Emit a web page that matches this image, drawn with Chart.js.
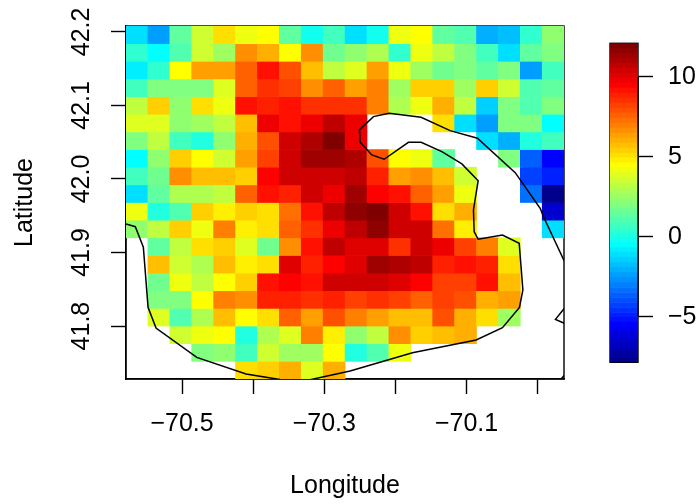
<!DOCTYPE html>
<html>
<head>
<meta charset="utf-8">
<script src="https://cdn.jsdelivr.net/npm/chart.js@4"></script>
<style>
  html, body { margin: 0; padding: 0; background: #fff; }
  #wrap { position: relative; width: 699px; height: 504px; overflow: hidden; }
  canvas { position: absolute; top: 0; left: 0; }
</style>
</head>
<body>
<div id="wrap">
  <canvas id="mapChart" width="699" height="504"></canvas>
  <canvas id="legendChart" width="699" height="504"></canvas>
</div>
<script>
// cell centres
const lons = [-70.5634, -70.5326, -70.5018, -70.4710, -70.4402, -70.4094, -70.3786, -70.3478, -70.3170, -70.2862,
              -70.2554, -70.2246, -70.1938, -70.1630, -70.1322, -70.1014, -70.0706, -70.0398, -70.0090, -69.9782];
const lats = [42.196, 42.172, 42.148, 42.124, 42.100, 42.076, 42.052, 42.028, 42.004, 41.980,
              41.956, 41.932, 41.908, 41.884, 41.860, 41.836, 41.812, 41.788, 41.764, 41.740];
const N = null;
// one row per latitude, top of the map first
const z = [
  [-1, -2.4, 1.35, 3.5, 5.1, 4.2, 4.5, 1.35, -0.2, 0.7, -1.1, -0.2, 4.2, 4.5, 1.35, 1, -2.1, -1.8, 0.4, 2.3],
  [0.4, -0.5, 1, 3.5, 2.6, 6.7, 6, 4.5, 6.7, 1.7, 2.3, 2.9, 0.4, 4.2, 3.2, 2, 0.7, -1.1, 1.35, 2],
  [-0.8, 0.4, 4.5, 6.35, 6.35, 7.6, 9.2, 7.9, 5.7, 3.2, 3.85, 6.35, 4.2, 2.6, 1.7, 2, 1.35, 2, -2.4, 0.7],
  [0.7, 2, 2, 2, 3.85, 7.6, 8.5, 8.2, 6.7, 7.6, 6.35, 7, 2.6, 5.4, 5.4, 2.6, 5.4, 3.5, 1, 1.35],
  [3.2, 5.4, 2.3, 5.1, 4.2, 9.2, 8.85, 9.2, 8.5, 8.5, 8.5, 7, 2.9, 4.2, 6, 3.2, -1.5, 2, 1, 2],
  [3.85, 3.85, 2.3, 2.6, 3.2, 5.7, 9.8, 9.2, 9.8, 10.7, 9.8, N, N, N, 5.1, -1.1, -2.4, 2, 2, -0.5],
  [2, 3.2, 0.7, 0.1, 2.3, 6, 7.9, 10.4, 11, 12, 9.8, N, N, N, N, N, -1.1, -2.1, 0.1, 0.7],
  [-0.5, 2.3, 5.4, 4.5, 3.5, 6.35, 8.2, 10.4, 11.4, 11.4, 11, 7.9, 4.5, 4.2, 1.35, N, N, 2, -3.65, -5.5],
  [0.7, 1.7, 6.7, 5.7, 5.7, 5.4, 9.5, 10.4, 10.4, 10.4, 10.7, 8.85, 6.35, 6.7, 5.7, 3.5, N, N, -4.3, -4.9],
  [-1.1, 1.35, 2.9, 2.9, 3.2, 7.6, 9.2, 8.85, 10.4, 9.8, 11.4, 9.5, 9.2, 7.6, 6.35, 4.2, N, N, -3.3, -7.7],
  [4.2, 0.1, 1, 5.4, 4.9, 5.4, 5.1, 7.3, 9.2, 10.7, 11.7, 12, 10.4, 9.2, 5.1, 6, N, N, N, -6.3],
  [2.3, 3.2, 5.4, 4.2, 7, 4.8, 5.1, 7.6, 8.5, 9.8, 10.7, 11.7, 10.4, 10.4, 7.3, 4.8, N, N, N, -1.1],
  [N, 1.35, 3.2, 5.1, 5.3, 3.85, 1.7, 6.7, 9.2, 10.7, 10.1, 10.1, 8.5, 10.4, 9.8, 8.2, 7, 3.85, N, N],
  [N, 5.7, 3.5, 2.9, 5.7, 4.8, 5.1, 10.1, 8.85, 9.5, 10.1, 11.4, 11, 10.7, 8.85, 9.2, 8.85, 5.1, N, N],
  [N, 1.7, 4.2, 3.2, 4.5, 5.4, 9.2, 9.5, 9.2, 10.4, 10.4, 10.4, 10.1, 9.5, 8.2, 8.2, 9.2, 5.7, N, N],
  [N, 2, 2, 4.5, 7, 6.7, 8.85, 8.85, 8.5, 8.85, 8.2, 8.5, 8.2, 7.6, 8.2, 7.9, 6, 6.35, N, N],
  [N, 3.85, 1, 2.9, 5.7, 4.5, 5.1, 7.6, 6.35, 7.9, 7, 6.35, 5.7, 5.7, 7.9, 6, 5.1, 2.6, N, N],
  [N, N, 3.5, 4.2, 4.5, 0.1, 2.9, 3.85, 7, 4.8, 2.3, 3.2, 6.7, 5.4, 5.7, 6, N, N, N, N],
  [N, N, N, 2, 2.3, 0.7, 3.5, 2.6, 2.6, 4.5, 0.1, 1, 4.2, N, N, N, N, N, N, N],
  [N, N, N, N, N, 5.1, 5.4, 6, 3.85, 6, N, N, N, N, N, N, N, N, N, N]
];

const coastMain = [
  [-70.5788, 41.9388], [-70.5657, 41.9351], [-70.5544, 41.9071], [-70.5478, 41.8254], [-70.5366, 41.7973],
  [-70.4793, 41.7574], [-70.4100, 41.7347], [-70.3622, 41.7272], [-70.3224, 41.7265], [-70.2637, 41.7388],
  [-70.1761, 41.7637], [-70.0865, 41.7810], [-70.0495, 41.7977], [-70.0256, 41.8254], [-70.0208, 41.8490],
  [-70.0260, 41.9125], [-70.0495, 41.9238], [-70.0837, 41.9180], [-70.0893, 41.9283], [-70.0903, 41.9578],
  [-70.0837, 41.9977], [-70.1066, 42.0204], [-70.1347, 42.0371], [-70.1639, 42.0499], [-70.1817, 42.0499],
  [-70.2159, 42.0268], [-70.2332, 42.0327], [-70.2496, 42.0499], [-70.2506, 42.0667], [-70.2309, 42.0848],
  [-70.2089, 42.0894], [-70.1639, 42.0839], [-70.1231, 42.0657], [-70.0847, 42.0554], [-70.0316, 42.0086],
  [-69.9965, 41.9601], [-69.9918, 41.9487], [-69.9637, 41.8907], [-69.9599, 41.8843]
];
const coastEast = [[-69.9599, 41.8272], [-69.9750, 41.8091], [-69.9599, 41.8027]];
const coastCorner = [[-69.9684, 41.7265], [-69.9599, 41.7361]];

const lonTicks = [-70.5, -70.4, -70.3, -70.2, -70.1, -70.0];
const lonLabels = ['\u221270.5', '', '\u221270.3', '', '\u221270.1', ''];
const latTicks = [41.8, 41.9, 42.0, 42.1, 42.2];
const latLabels = ['41.8', '41.9', '42.0', '42.1', '42.2'];
const legendTicks = [-5, 0, 5, 10];
const legendLabels = ['\u22125', '0', '5', '10'];

const palette = [
  '#00008F','#00009F','#0000AF','#0000BF','#0000CF','#0000DF','#0000EF','#0000FF',
  '#0010FF','#0020FF','#0030FF','#0040FF','#0050FF','#0060FF','#0070FF','#0080FF',
  '#008FFF','#009FFF','#00AFFF','#00BFFF','#00CFFF','#00DFFF','#00EFFF','#00FFFF',
  '#10FFEF','#20FFDF','#30FFCF','#40FFBF','#50FFAF','#60FF9F','#70FF8F','#80FF80',
  '#8FFF70','#9FFF60','#AFFF50','#BFFF40','#CFFF30','#DFFF20','#EFFF10','#FFFF00',
  '#FFEF00','#FFDF00','#FFCF00','#FFBF00','#FFAF00','#FF9F00','#FF8F00','#FF8000',
  '#FF7000','#FF6000','#FF5000','#FF4000','#FF3000','#FF2000','#FF1000','#FF0000',
  '#EF0000','#DF0000','#CF0000','#BF0000','#AF0000','#9F0000','#8F0000','#800000'
];
const zMin = -7.85, zMax = 12.09;
const latHalf = 0.012;

function colorOf(v) {
  const i = Math.floor((v - zMin) / (zMax - zMin) * palette.length);
  return palette[Math.min(palette.length - 1, Math.max(0, i))];
}

const FONT = '"Liberation Sans", Arial, sans-serif';
const SIZE = 25;

// box round the plot area, the cells paint over its inner half
const boxPlugin = {
  id: 'box',
  beforeDatasetsDraw(chart) {
    const a = chart.chartArea, ctx = chart.ctx;
    ctx.save();
    ctx.strokeStyle = '#000';
    ctx.lineWidth = 1.4;
    ctx.strokeRect(a.left, a.top, a.right - a.left, a.bottom - a.top);
    ctx.restore();
  }
};

// axis line of the colour bar only runs between the first and last tick
const legendAxisPlugin = {
  id: 'legendAxis',
  afterDatasetsDraw(chart) {
    const s = chart.scales.y, ctx = chart.ctx;
    ctx.save();
    ctx.strokeStyle = '#000';
    ctx.lineWidth = 1.4;
    ctx.beginPath();
    ctx.moveTo(chart.chartArea.right, s.getPixelForValue(legendTicks[0]));
    ctx.lineTo(chart.chartArea.right, s.getPixelForValue(legendTicks[legendTicks.length - 1]));
    ctx.stroke();
    ctx.restore();
  }
};

// every latitude row is one dataset of floating bars
const rowSets = lats.map((lat, i) => {
  const data = [], colors = [];
  lons.forEach((lon, j) => {
    if (z[i][j] === null) return;
    data.push({ x: lon, y: [lat - latHalf, lat + latHalf] });
    colors.push(colorOf(z[i][j]));
  });
  return {
    type: 'bar', data: data, backgroundColor: colors,
    grouped: false, barPercentage: 1, categoryPercentage: 1, order: 2
  };
});

function coastSet(points) {
  return {
    type: 'line',
    data: points.map(p => ({ x: p[0], y: p[1] })),
    borderColor: '#000', borderWidth: 1.5, pointRadius: 0, tension: 0, fill: false, order: 1
  };
}

new Chart(document.getElementById('mapChart'), {
  type: 'bar',
  data: { datasets: rowSets.concat([coastSet(coastMain), coastSet(coastEast), coastSet(coastCorner)]) },
  options: {
    responsive: false,
    animation: false,
    events: [],
    layout: { padding: { left: 0, top: 26, right: 135, bottom: 0 } },
    plugins: { legend: { display: false }, tooltip: { enabled: false } },
    scales: {
      x: {
        type: 'linear', min: -70.5788, max: -69.963, offset: false,
        afterBuildTicks: axis => { axis.ticks = lonTicks.map(v => ({ value: v })); },
        afterFit: axis => { axis.height = 125; },
        grid: { offset: false, drawOnChartArea: false, tickLength: 15, tickColor: '#000', tickWidth: 1.4 },
        border: { color: '#000', width: 1.4 },
        ticks: {
          autoSkip: false, maxRotation: 0, minRotation: 0, padding: 15, color: '#000',
          font: { family: FONT, size: SIZE },
          callback: (v, i) => lonLabels[i]
        },
        title: { display: true, text: 'Longitude', color: '#000', font: { family: FONT, size: SIZE }, padding: { top: 26, bottom: 3 } }
      },
      y: {
        type: 'linear', min: 41.728, max: 42.208,
        afterBuildTicks: axis => { axis.ticks = latTicks.map(v => ({ value: v })); },
        afterFit: axis => { axis.width = 126; },
        grid: { drawOnChartArea: false, tickLength: 15, tickColor: '#000', tickWidth: 1.4 },
        border: { color: '#000', width: 1.4 },
        ticks: {
          autoSkip: false, minRotation: 90, maxRotation: 90, crossAlign: 'center', padding: 5, color: '#000',
          font: { family: FONT, size: SIZE },
          callback: (v, i) => latLabels[i]
        },
        title: { display: true, text: 'Latitude', color: '#000', font: { family: FONT, size: SIZE }, padding: { top: 10, bottom: 26 } }
      }
    }
  },
  plugins: [boxPlugin]
});

// colour bar: one floating bar per palette level
const step = (zMax - zMin) / palette.length;
const legendSets = palette.map((c, i) => ({
  data: [[zMin + i * step, zMin + (i + 1) * step]],
  backgroundColor: c, grouped: false, barPercentage: 1, categoryPercentage: 1
}));

new Chart(document.getElementById('legendChart'), {
  type: 'bar',
  data: { labels: [''], datasets: legendSets },
  options: {
    responsive: false,
    animation: false,
    events: [],
    layout: { padding: { left: 610, top: 43.3, right: 0, bottom: 141.7 } },
    plugins: { legend: { display: false }, tooltip: { enabled: false } },
    scales: {
      x: { display: false },
      y: {
        position: 'right', min: zMin, max: zMax,
        afterBuildTicks: axis => { axis.ticks = legendTicks.map(v => ({ value: v })); },
        afterFit: axis => { axis.width = 61; },
        grid: { drawOnChartArea: false, tickLength: 15, tickColor: '#000', tickWidth: 1.4 },
        border: { display: false },
        ticks: {
          autoSkip: false, padding: 15, color: '#000',
          font: { family: FONT, size: SIZE },
          callback: (v, i) => legendLabels[i]
        }
      }
    }
  },
  plugins: [boxPlugin, legendAxisPlugin]
});
</script>
</body>
</html>
